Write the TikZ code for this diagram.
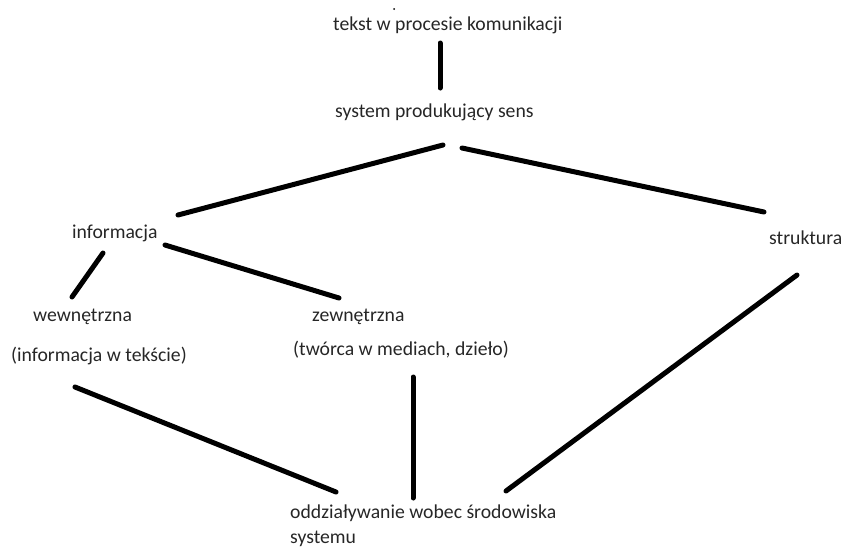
\documentclass[tikz,border=0pt]{standalone}
\usepackage{fontspec}
\setmainfont{Carlito}
\begin{document}
\begin{tikzpicture}[x=1pt,y=-1pt,
  lbl/.style={anchor=base west,inner sep=0pt,font=\fontsize{19.7}{24}\selectfont,text=black!85},
  conn/.style={line width=5pt,line cap=round}]
\useasboundingbox (0,0) rectangle (843,547);
\node[lbl] (top) at (333,30) {tekst w procesie komunikacji};
\node[lbl] (sys) at (335,117) {system produkujący sens};
\node[lbl] (inf) at (72,238) {informacja};
\node[lbl] (str) at (769,244) {struktura};
\node[lbl] (wew) at (33,321) {wewnętrzna};
\node[lbl] (wewd) at (11,361) {(informacja w tekście)};
\node[lbl] (zew) at (312,321) {zewnętrzna};
\node[lbl] (zewd) at (293,355) {(twórca w mediach, dzieło)};
\node[lbl] (odd) at (290,518) {oddziaływanie wobec środowiska};
\node[lbl] (sysm) at (290,543) {systemu};
\fill (394,9) circle (1pt);
\coordinate (a1) at (440,43); \coordinate (a2) at (440,88);
\coordinate (b1) at (443,145); \coordinate (b2) at (178,215);
\coordinate (c1) at (462,148); \coordinate (c2) at (764,212);
\coordinate (d1) at (103,253); \coordinate (d2) at (72,297);
\coordinate (e1) at (165,245); \coordinate (e2) at (339,298);
\coordinate (f1) at (75,387); \coordinate (f2) at (336,492);
\coordinate (g1) at (413,377); \coordinate (g2) at (413,498);
\coordinate (h1) at (797,275); \coordinate (h2) at (506,491);
\draw[conn] (a1) -- (a2);
\draw[conn] (b1) -- (b2);
\draw[conn] (c1) -- (c2);
\draw[conn] (d1) -- (d2);
\draw[conn] (e1) -- (e2);
\draw[conn] (f1) -- (f2);
\draw[conn] (g1) -- (g2);
\draw[conn] (h1) -- (h2);
\end{tikzpicture}
\end{document}
